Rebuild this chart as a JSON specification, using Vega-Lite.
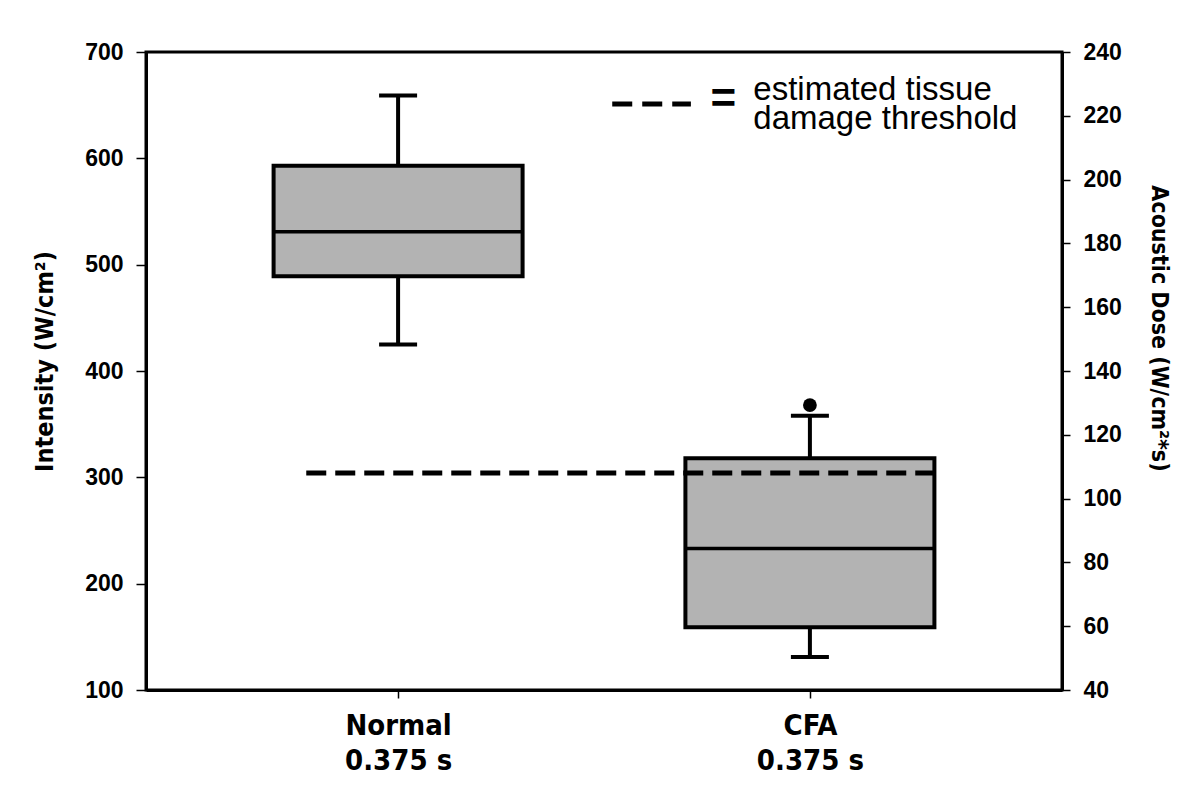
{
  "$schema": "https://vega.github.io/schema/vega-lite/v6.json",
  "width": 916,
  "height": 638,
  "autosize": {"type": "none"},
  "padding": {"left": 146, "top": 52, "right": 138, "bottom": 108},
  "background": "white",
  "config": {
    "view": {"stroke": "black", "strokeWidth": 3},
    "font": "Liberation Sans",
    "axis": {
      "domainColor": "black", "domainWidth": 3, "tickColor": "black",
      "labelColor": "black", "titleColor": "black", "grid": false,
      "labelFont": "Liberation Sans", "labelFontWeight": "bold",
      "titleFont": "Liberation Sans Narrow, DejaVu Sans Condensed, Liberation Sans",
      "titleFontWeight": "bold"
    }
  },
  "datasets": {
    "elements": [
      {"kind": "whisker", "x": 0.6, "y": 425, "y2": 659},
      {"kind": "whisker", "x": 1.6, "y": 131, "y2": 358},
      {"kind": "box", "x": 0.6, "y": 489, "y2": 593},
      {"kind": "box", "x": 1.6, "y": 159, "y2": 318},
      {"kind": "median", "x": 0.6, "y": 531},
      {"kind": "median", "x": 1.6, "y": 233},
      {"kind": "cap", "x": 0.6, "y": 659},
      {"kind": "cap", "x": 0.6, "y": 425},
      {"kind": "cap", "x": 1.6, "y": 358},
      {"kind": "cap", "x": 1.6, "y": 131},
      {"kind": "outlier", "x": 1.6, "y": 368},
      {"kind": "threshold", "x": 0.377, "x2": 1.909, "y": 304},
      {"kind": "legendline", "x": 1.12, "x2": 1.311, "y": 651},
      {"kind": "equals", "x": 1.39, "y": 657, "text": "="},
      {"kind": "legendtext", "x": 1.4625, "y": 664, "text": "estimated tissue|damage threshold"}
    ],
    "dose": [{"dose": 40}, {"dose": 240}]
  },
  "layer": [
    {
      "data": {"name": "elements"},
      "encoding": {
        "x": {
          "field": "x", "type": "quantitative",
          "scale": {"domain": [0, 2.2], "nice": false, "zero": false},
          "axis": {
            "values": [0.6, 1.6], "title": null,
            "labelExpr": "datum.value == 0.6 ? ['Normal', '0.375 s'] : ['CFA', '0.375 s']",
            "labelFont": "Liberation Sans Narrow, DejaVu Sans Condensed, Liberation Sans",
            "labelFontSize": 29, "labelLineHeight": 35, "labelPadding": 13,
            "tickSize": 8, "tickWidth": 1.5
          }
        },
        "y": {
          "field": "y", "type": "quantitative",
          "scale": {"domain": [100, 700], "nice": false, "zero": false},
          "axis": {
            "values": [100, 200, 300, 400, 500, 600, 700],
            "title": "Intensity (W/cm²)", "titleFontSize": 25, "titlePadding": 27, "titleY": 309,
            "labelFontSize": 23, "labelPadding": 13, "tickSize": 10, "tickWidth": 1.5
          }
        }
      },
      "layer": [
        {
          "transform": [{"filter": "datum.kind == 'whisker'"}],
          "mark": {"type": "rule", "color": "black", "strokeWidth": 4},
          "encoding": {"y2": {"field": "y2"}}
        },
        {
          "transform": [{"filter": "datum.kind == 'box'"}],
          "mark": {"type": "bar", "width": 249, "fill": "#b3b3b3", "stroke": "black", "strokeWidth": 4},
          "encoding": {"y2": {"field": "y2"}}
        },
        {
          "transform": [{"filter": "datum.kind == 'median'"}],
          "mark": {"type": "tick", "orient": "horizontal", "size": 249, "thickness": 3.5, "color": "black", "opacity": 1}
        },
        {
          "transform": [{"filter": "datum.kind == 'cap'"}],
          "mark": {"type": "tick", "orient": "horizontal", "size": 38, "thickness": 4, "color": "black", "opacity": 1}
        },
        {
          "transform": [{"filter": "datum.kind == 'outlier'"}],
          "mark": {"type": "point", "filled": true, "color": "black", "size": 190, "opacity": 1}
        },
        {
          "transform": [{"filter": "datum.kind == 'threshold'"}],
          "mark": {"type": "rule", "color": "black", "strokeWidth": 5, "strokeDash": [20, 9]},
          "encoding": {"x2": {"field": "x2"}}
        },
        {
          "transform": [{"filter": "datum.kind == 'legendline'"}],
          "mark": {"type": "rule", "color": "black", "strokeWidth": 5, "strokeDash": [20, 10]},
          "encoding": {"x2": {"field": "x2"}}
        },
        {
          "transform": [{"filter": "datum.kind == 'equals'"}],
          "mark": {"type": "text", "fontSize": 44, "fontWeight": "bold", "align": "center", "baseline": "middle", "color": "black", "dy": 2},
          "encoding": {"text": {"field": "text"}}
        },
        {
          "transform": [{"filter": "datum.kind == 'legendtext'"}],
          "mark": {"type": "text", "fontSize": 33, "align": "left", "baseline": "middle", "color": "black", "font": "Liberation Sans", "lineBreak": "|", "lineHeight": 29},
          "encoding": {"text": {"field": "text"}}
        }
      ]
    },
    {
      "data": {"name": "dose"},
      "mark": {"type": "point", "opacity": 0},
      "encoding": {
        "y": {
          "field": "dose", "type": "quantitative",
          "scale": {"domain": [40, 240], "nice": false, "zero": false},
          "axis": {
            "orient": "right",
            "values": [40, 60, 80, 100, 120, 140, 160, 180, 200, 220, 240],
            "title": "Acoustic Dose (W/cm²*s)", "titleFontSize": 23, "titlePadding": 25, "titleY": 276,
            "labelFontSize": 23, "labelPadding": 13, "tickSize": 8, "tickWidth": 1.5
          }
        }
      }
    }
  ],
  "resolve": {"scale": {"y": "independent"}}
}
